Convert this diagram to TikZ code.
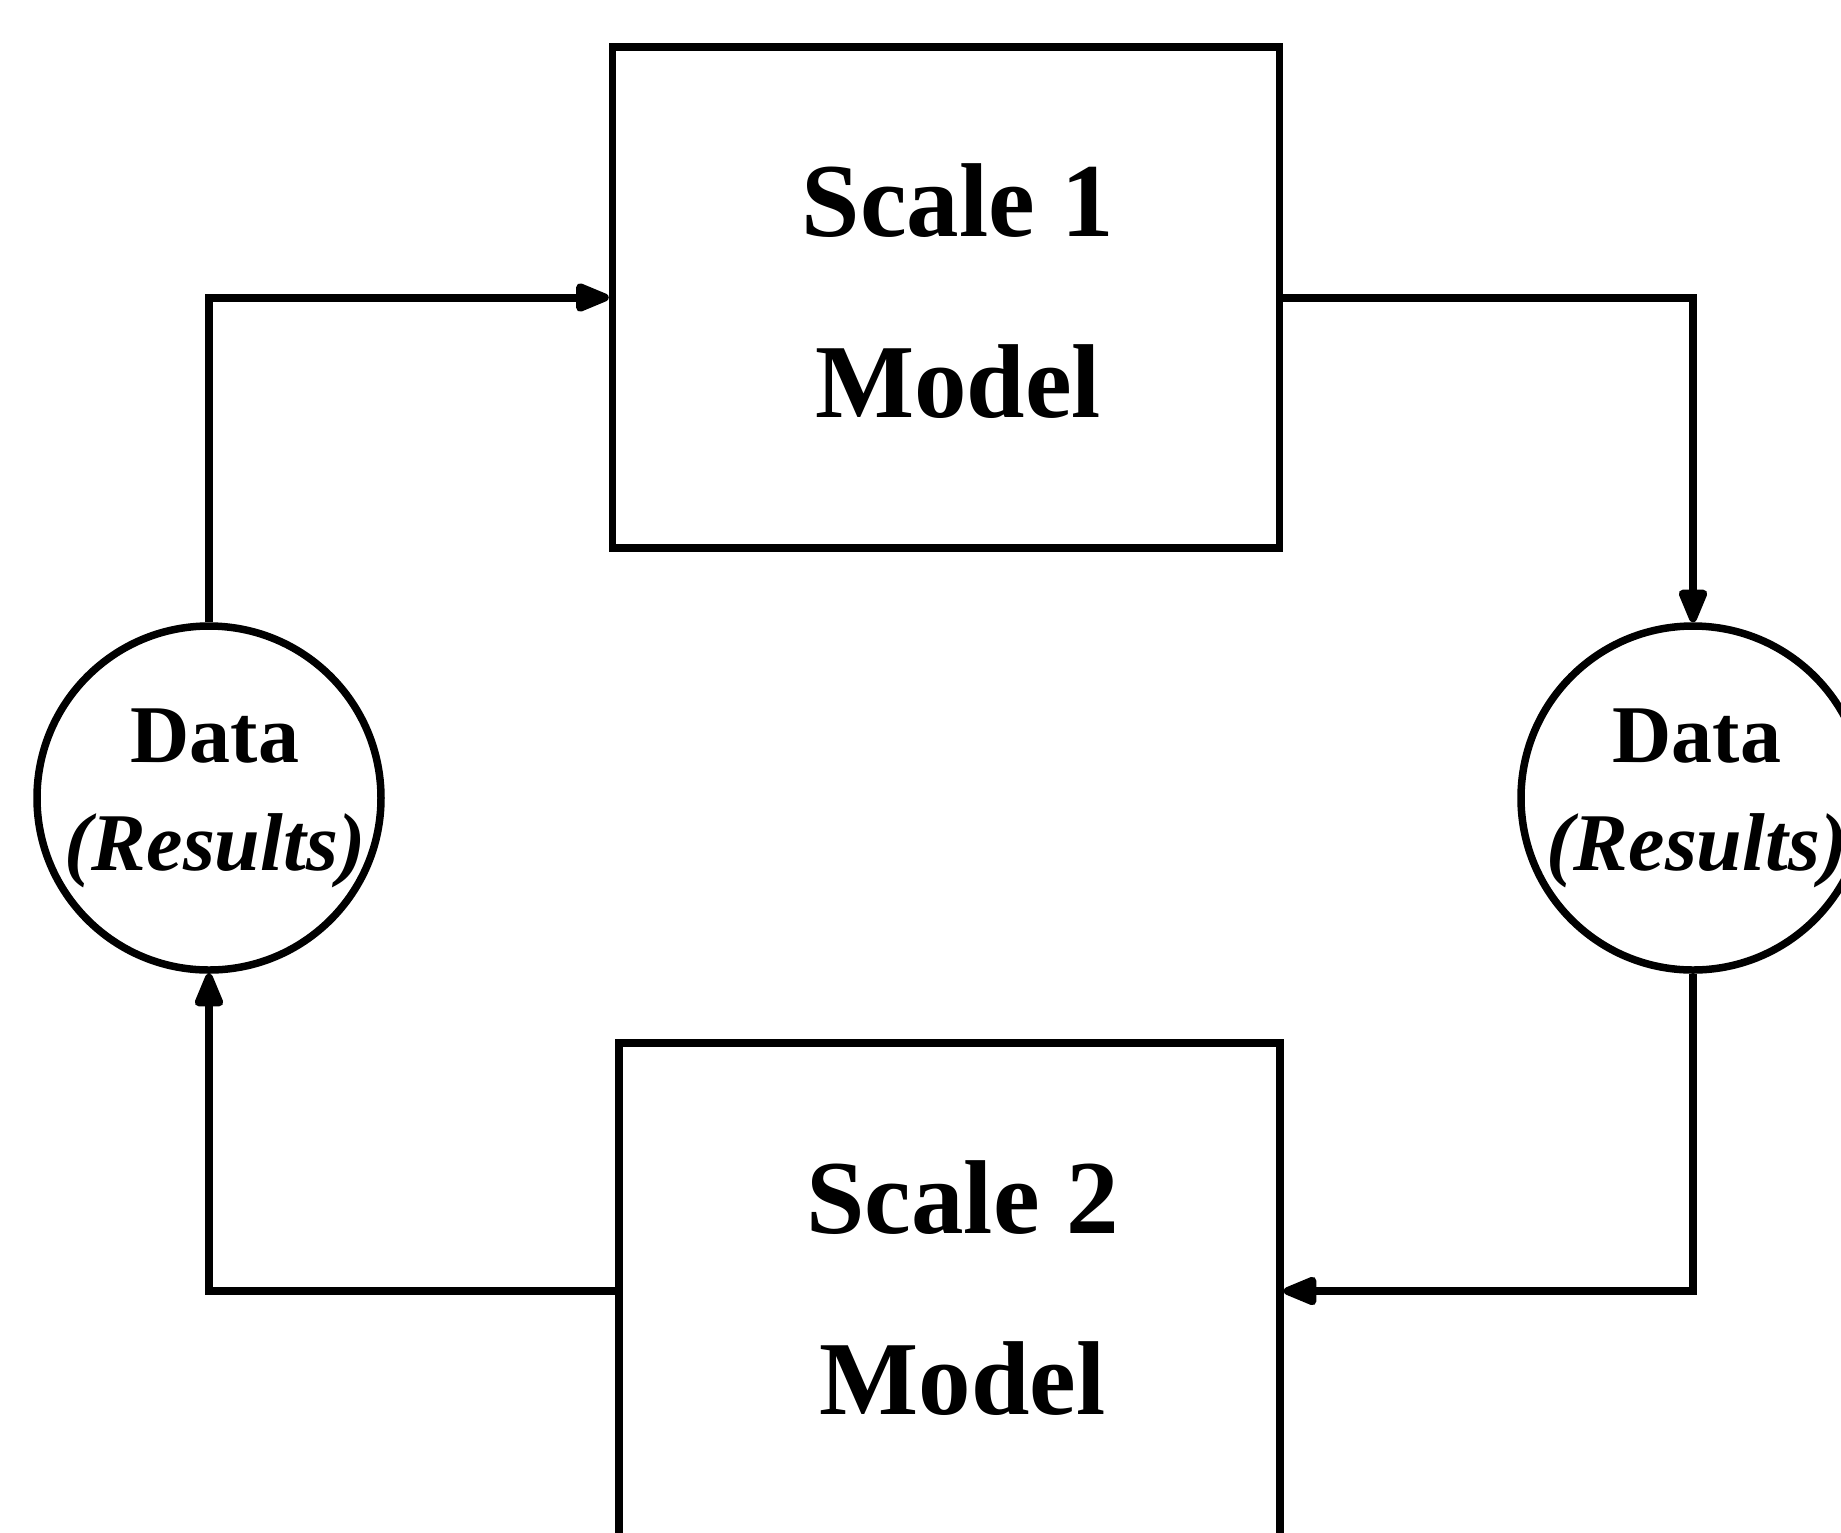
\documentclass[tikz,border=0pt]{standalone}
\usepackage{fontspec}
\setmainfont{Liberation Serif}
\usetikzlibrary{arrows.meta}
\tikzset{
  modelbox/.style={draw, line width=7.5pt, rectangle, inner sep=0pt},
  modeltext/.style={align=center, inner sep=0pt,
    font=\bfseries\fontsize{105}{181}\selectfont},
  datacircle/.style={draw, line width=7.5pt, circle, inner sep=0pt,
    minimum size=344pt},
  datatext/.style={align=center, inner sep=0pt,
    font=\bfseries\fontsize{82}{108}\selectfont},
  flow/.style={line width=8pt, -{Triangle[round, length=40pt, width=30pt]}},
}
\begin{document}
\begin{tikzpicture}[x=1pt, y=-1pt]
  \useasboundingbox (0,0) rectangle (1841,1532);
  \clip (0,0) rectangle (1841,1532);

  % the two model boxes
  \node[modelbox, minimum width=667pt, minimum height=501pt] (m1) at (946,297.5) {};
  \node[modelbox, minimum width=661pt, minimum height=496pt] (m2) at (949.5,1291) {};
  \node[modeltext] (s1) at ([xshift=12pt,yshift=6pt]m1.center) {Scale 1\\Model};
  \node[modeltext] (s2) at ([xshift=13pt,yshift=3pt]m2.center) {Scale 2\\Model};

  % the two data circles
  \node[datacircle] (d1) at (209,798) {};
  \node[datacircle] (d2) at (1693,798) {};
  \node[datatext] (t1) at ([xshift=6pt]d1.center)
    {Data\\{\itshape(Results)}};
  \node[datatext] (t2) at ([xshift=4pt]d2.center)
    {Data\\{\itshape(Results)}};

  % the exchange loop
  \draw[flow] (d1.north) |- (m1.west);
  \draw[flow] (m1.east) -| (d2.north);
  \draw[flow] (d2.south) |- (m2.east);
  \draw[flow] (m2.west) -| (d1.south);
\end{tikzpicture}
\end{document}
